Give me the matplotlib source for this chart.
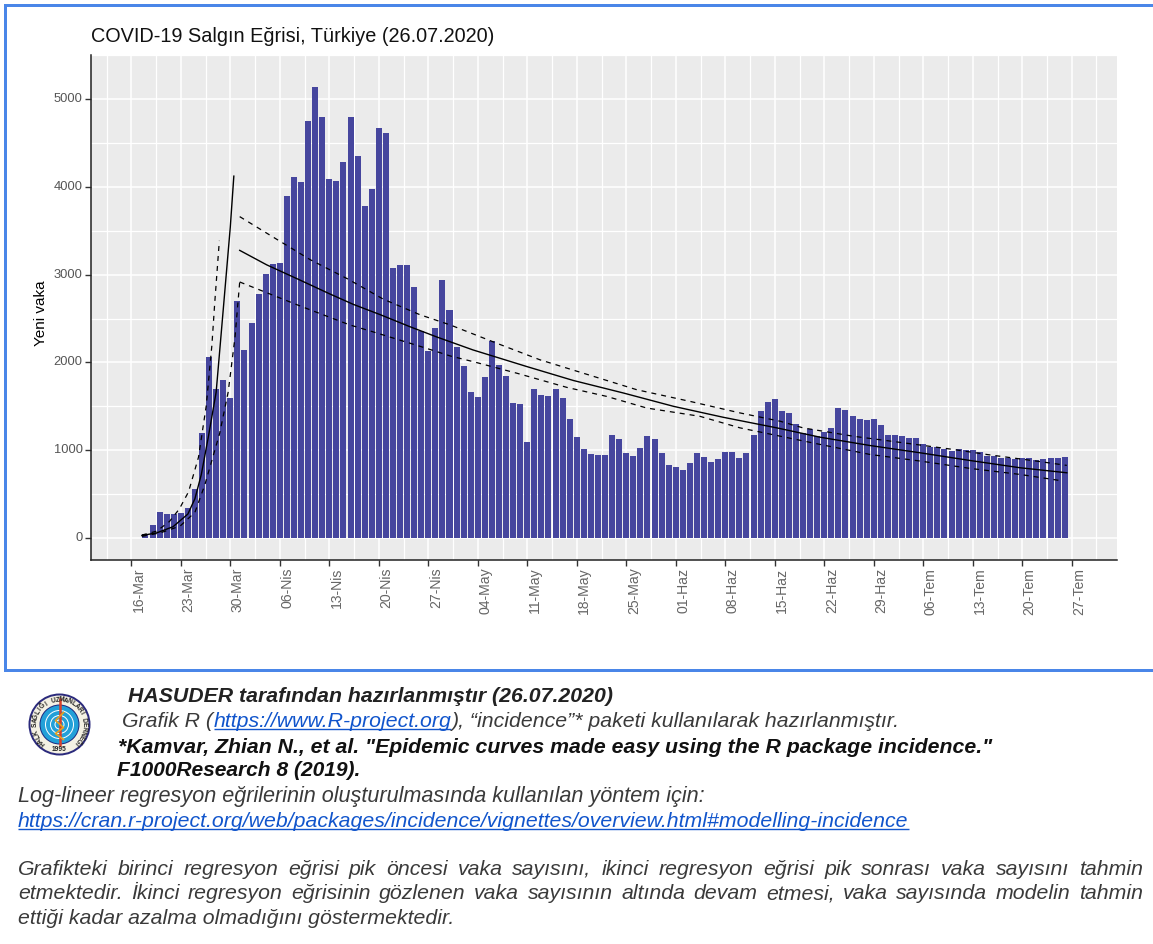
import matplotlib
matplotlib.use("Agg")
import matplotlib.pyplot as plt
from matplotlib.patches import Circle, Rectangle
from matplotlib.transforms import ScaledTranslation
import numpy as np

plt.rcParams['font.family'] = ['Liberation Sans', 'DejaVu Sans']

W, H = 1153, 944
TITLE = "COVID-19 Salgın Eğrisi, Türkiye (26.07.2020)"
YLABEL = "Yeni vaka"
TICK_DAYS = list(range(0, 134, 7))
TICK_LABELS = ["16-Mar", "23-Mar", "30-Mar", "06-Nis", "13-Nis", "20-Nis", "27-Nis",
               "04-May", "11-May", "18-May", "25-May", "01-Haz", "08-Haz", "15-Haz",
               "22-Haz", "29-Haz", "06-Tem", "13-Tem", "20-Tem", "27-Tem"]
Y_TICKS = [0, 1000, 2000, 3000, 4000, 5000]
FIRST_DAY = 2  # 18 March, days counted from 16 March

CASES = [50, 150, 300, 280, 280, 285, 340, 560, 1200, 2060, 1700, 1800, 1595, 2700, 2140,
         2450, 2780, 3010, 3125, 3135, 3890, 4110, 4055, 4745, 5135, 4790, 4090, 4060, 4280,
         4795, 4350, 3780, 3975, 4670, 4610, 3080, 3115, 3115, 2855, 2360, 2130, 2390, 2935,
         2600, 2180, 1965, 1660, 1605, 1830, 2240, 1970, 1840, 1540, 1530, 1100, 1695, 1630,
         1620, 1695, 1595, 1360, 1150, 1012, 958, 945, 945, 1178, 1130, 970, 935, 1025,
         1165, 1130, 970, 835, 815, 780, 860, 970, 920, 870, 905, 985, 985, 910, 970,
         1178, 1450, 1555, 1580, 1450, 1425, 1295, 1200, 1242, 1168, 1205, 1258, 1476, 1453,
         1385, 1358, 1347, 1358, 1283, 1178, 1178, 1165, 1140, 1140, 1070, 1038, 1032, 1017,
         995, 1010, 998, 998, 983, 935, 930, 915, 907, 903, 915, 915, 892, 903, 915, 907, 920]

FIT1_X = [1.5, 3.6, 5.9, 8.0, 9.0, 9.9, 10.9, 12.0, 13.0, 14.0, 14.5]
FIT1_Y = [30, 60, 130, 274, 450, 724, 1155, 1663, 2600, 3542, 4121]
FIT1_UP_X = [1.5, 3.6, 5.4, 6.8, 8.1, 9.5, 10.6, 11.4, 11.8, 12.45]
FIT1_UP_Y = [35, 80, 190, 333, 528, 920, 1507, 2200, 2680, 3385]
FIT1_LO_X = [1.5, 4.1, 6.9, 9.0, 10.4, 12.5, 13.7, 14.67, 15.33]
FIT1_LO_Y = [20, 60, 137, 294, 607, 1194, 1663, 2290, 2916]

FIT2_X = [15.33, 19.15, 23.39, 28.1, 31.4, 35.2, 39.4, 43.2, 48.3, 55.9, 62.5, 69.6, 76.7,
          83.7, 91.3, 97.4, 104.5, 111.6, 118.6, 125.7, 132.3]
FIT2_Y = [3276, 3111, 2955, 2779, 2661, 2544, 2407, 2290, 2143, 1954, 1795, 1652, 1500,
          1376, 1255, 1149, 1054, 971, 884, 801, 744]
FIT2_UP_X = [15.33, 20.1, 25.3, 30.5, 35.65, 40.8, 45.1, 51.7, 57.8, 63.9, 71.5, 79.0, 86.1,
             91.8, 95.0, 102.1, 109.2, 116.3, 121.0, 128.0, 132.3]
FIT2_UP_Y = [3660, 3425, 3170, 2955, 2720, 2544, 2427, 2218, 2030, 1878, 1689, 1557, 1425,
             1330, 1255, 1160, 1085, 1009, 952, 877, 828]
FIT2_LO_X = [15.33, 23.9, 30.9, 34.2, 41.3, 45.1, 48.3, 54.5, 61.6, 67.2, 72.9, 80.4, 86.1,
             91.8, 97.4, 104.5, 111.6, 118.6, 125.7, 131.8]
FIT2_LO_Y = [2916, 2642, 2427, 2348, 2172, 2074, 2010, 1878, 1716, 1614, 1481, 1387, 1255,
             1160, 1067, 952, 877, 794, 725, 650]

BLUE = "#4A86E8"
LINK = "#1155CC"
GREY = "#3A3A3A"
BODY = 15.3

fig = plt.figure(figsize=(W / 100, H / 100), dpi=100, facecolor="white")

# chart panel
L, R, T, B = 91, 1117, 55, 560
ax = fig.add_axes([L / W, 1 - B / H, (R - L) / W, (B - T) / H], facecolor="#EBEBEB")
ax.set_xlim(-5.7, 139.4)
ax.set_ylim(-249, 5476)
ax.set_axisbelow(True)
ax.set_xticks(TICK_DAYS)
ax.set_xticks([d + 3.5 for d in range(-7, 140, 7) if -5.7 < d + 3.5 < 139.4], minor=True)
ax.set_yticks(Y_TICKS)
ax.set_yticks([v + 500 for v in Y_TICKS], minor=True)
ax.grid(which="major", color="white", lw=1.1)
ax.grid(which="minor", color="white", lw=0.9)
ax.tick_params(which="minor", length=0)
ax.tick_params(axis="y", which="major", length=4, width=1, colors="#333333",
               labelsize=9.3, labelcolor="#555555", pad=2)
ax.tick_params(axis="x", which="major", length=4, width=1, colors="#333333",
               labelsize=10.1, labelcolor="#666666", pad=1.5)
ax.set_xticklabels(TICK_LABELS, rotation=90)
shift_x = ScaledTranslation(7.5 / 100, 0, fig.dpi_scale_trans)
for lab in ax.get_xticklabels():
    lab.set_transform(lab.get_transform() + shift_x)
shift_y = ScaledTranslation(0, 1.5 / 100, fig.dpi_scale_trans)
for lab in ax.get_yticklabels():
    lab.set_transform(lab.get_transform() + shift_y)
for s in ("top", "right"):
    ax.spines[s].set_visible(False)
for s in ("left", "bottom"):
    ax.spines[s].set_color("#222222")
    ax.spines[s].set_linewidth(1.1)

days = FIRST_DAY + np.arange(len(CASES))
ax.bar(days, CASES, width=0.85, color="#46469E", linewidth=0)

ax.plot(FIT1_X, FIT1_Y, color="black", lw=1)
ax.plot(FIT2_X, FIT2_Y, color="black", lw=1)
for xs, ys in ((FIT1_UP_X, FIT1_UP_Y), (FIT1_LO_X, FIT1_LO_Y),
               (FIT2_UP_X, FIT2_UP_Y), (FIT2_LO_X, FIT2_LO_Y)):
    ax.plot(xs, ys, color="black", lw=0.9, dashes=(4, 4))

# full-figure overlay in pixel coordinates
ov = fig.add_axes([0, 0, 1, 1], facecolor="none")
ov.set_xlim(0, W)
ov.set_ylim(H, 0)
ov.axis("off")

ov.add_patch(Rectangle((4, 4), W - 4, 3, color=BLUE, lw=0))
ov.add_patch(Rectangle((4, 4), 3, 666, color=BLUE, lw=0))
ov.add_patch(Rectangle((4, 669), W - 4, 3, color=BLUE, lw=0))

rend = fig.canvas.get_renderer()


def put(x, y, s, color=GREY, width=None, size=BODY, bold=False, link=False):
    """Place a left-aligned italic string; y is the baseline; returns the right edge."""
    t = ov.text(x, y, s, color=color, fontsize=size, fontstyle="italic",
                fontweight="bold" if bold else "normal", va="baseline", ha="left")
    if width is not None:
        t.set_fontsize(size * width / t.get_window_extent(rend).width)
    w = t.get_window_extent(rend).width
    if link:
        ov.plot([x, x + w], [y + 2, y + 2], color=color, lw=1, solid_capstyle="butt")
    return x + w


def justify(x0, x1, y, s, size):
    words = s.split()
    ts = [ov.text(0, y, w, color=GREY, fontsize=size, fontstyle="italic",
                  va="baseline", ha="left") for w in words]
    widths = [t.get_window_extent(rend).width for t in ts]
    gap = (x1 - x0 - sum(widths)) / (len(words) - 1)
    x = x0
    for t, w in zip(ts, widths):
        t.set_x(x)
        x += w + gap


ov.text(91, 42, TITLE, fontsize=14.3, color="#111111", va="baseline", ha="left")
ov.text(41, 313, YLABEL, fontsize=11, color="black", rotation=90, ha="center", va="center")

put(128, 702, "HASUDER tarafından hazırlanmıştır (26.07.2020)", color="#222222", width=484, bold=True)
x = put(122.5, 727, "Grafik R (")
x = put(x, 727, "https://www.R-project.org", color=LINK, link=True)
put(x, 727, "), “incidence”* paketi kullanılarak hazırlanmıştır.")
put(118, 753, '*Kamvar, Zhian N., et al. "Epidemic curves made easy using the R package incidence."',
    color="#111111", width=874, bold=True)
put(117, 776, "F1000Research 8 (2019).", color="#111111", width=245, bold=True)
put(18, 802, "Log-lineer regresyon eğrilerinin oluşturulmasında kullanılan yöntem için:", width=690)
put(18, 827, "https://cran.r-project.org/web/packages/incidence/vignettes/overview.html#modelling-incidence",
    color=LINK, width=892, link=True)

justify(18, 1143, 875, "Grafikteki birinci regresyon eğrisi pik öncesi vaka sayısını, ikinci regresyon "
        "eğrisi pik sonrası vaka sayısını tahmin", BODY)
justify(18, 1143, 899, "etmektedir. İkinci regresyon eğrisinin gözlenen vaka sayısının altında devam "
        "etmesi, vaka sayısında modelin tahmin", BODY)
ov.text(18, 924, "ettiği kadar azalma olmadığını göstermektedir.", color=GREY, fontsize=BODY,
        fontstyle="italic", va="baseline", ha="left")

# society logo
cx, cy = 59.5, 724.5
ov.add_patch(Circle((cx, cy), 31, facecolor="#2B2A7C", lw=0))
ov.add_patch(Circle((cx, cy), 29, facecolor="#F4F1E4", lw=0))
ov.add_patch(Circle((cx, cy), 20, facecolor="#1E2A80", lw=0))
for r, c in ((19, "#22A0D8"), (14.5, "white"), (13.5, "#22A0D8"), (9.5, "white"),
             (8.5, "#22A0D8"), (5, "white"), (4, "#22A0D8")):
    ov.add_patch(Circle((cx, cy), r, facecolor=c, lw=0))
ov.plot([cx, cx], [cy - 26, cy + 20], color="#D8402A", lw=1.8)
ov.plot([cx + 4, cx - 4, cx + 4, cx - 4, cx + 4], [cy - 12, cy - 4, cy + 3, cy + 9, cy + 15],
        color="#E8A020", lw=1.2)
logo = "HALK SAĞLIĞI UZMANLARI DERNEĞİ"
angles = np.linspace(228, -48, len(logo))
for ch, a in zip(logo, angles):
    ov.text(cx + 24.5 * np.cos(np.radians(a)), cy - 24.5 * np.sin(np.radians(a)), ch,
            fontsize=4.8, fontweight="bold", color="#222222", ha="center", va="center",
            rotation=a - 90)
ov.text(cx, cy + 25, "1995", fontsize=4.8, fontweight="bold", color="#222222", ha="center", va="center")

fig.savefig("out.png", dpi=100, facecolor="white")
